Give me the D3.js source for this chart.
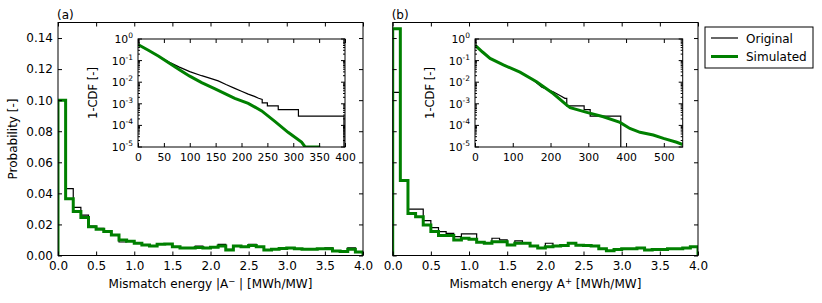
<!DOCTYPE html>
<html>
<head>
<meta charset="utf-8">
<script src="https://cdn.jsdelivr.net/npm/d3@7"></script>
<style>
  body { margin: 0; background: #fff; }
  text { font-family: "DejaVu Sans", sans-serif; fill: #000; }
</style>
</head>
<body>
<svg width="822" height="303"></svg>
<script>
// histogram bins: 0.0 .. 4.0 in steps of 0.1
var binWidth = 0.1;
var leftOrig = [0.100, 0.043, 0.031, 0.026, 0.019, 0.0175, 0.0155, 0.013, 0.0087, 0.0094,
  0.008, 0.0068, 0.0061, 0.0072, 0.0074, 0.0057, 0.0048, 0.0048, 0.0061, 0.0048,
  0.0053, 0.0072, 0.004, 0.0061, 0.0057, 0.0072, 0.0057, 0.0035, 0.004, 0.0045,
  0.0049, 0.0044, 0.004, 0.004, 0.0044, 0.0049, 0.0029, 0.0025, 0.0049, 0.0022];
var leftSim = [0.100, 0.0365, 0.0283, 0.0244, 0.0185, 0.0169, 0.0154, 0.0132, 0.010, 0.0092,
  0.0079, 0.0068, 0.0061, 0.0072, 0.0074, 0.0057, 0.0048, 0.0048, 0.0052, 0.0048,
  0.0053, 0.0061, 0.0035, 0.0061, 0.0057, 0.0064, 0.0057, 0.0035, 0.004, 0.0045,
  0.0049, 0.0044, 0.004, 0.004, 0.0044, 0.0044, 0.0029, 0.0025, 0.004, 0.0022];
var rightOrig = [0.105, 0.0483, 0.0298, 0.0298, 0.0224, 0.018, 0.0154, 0.0143, 0.0121, 0.0139,
  0.0139, 0.0085, 0.0079, 0.0111, 0.010, 0.0068, 0.0094, 0.0079, 0.0061, 0.0048,
  0.0079, 0.0061, 0.0064, 0.0079, 0.0066, 0.0064, 0.0061, 0.0044, 0.0031, 0.0039,
  0.0044, 0.0044, 0.0048, 0.0035, 0.0039, 0.0039, 0.0044, 0.0044, 0.0048, 0.0057];
var rightSim = [0.146, 0.0483, 0.027, 0.025, 0.0197, 0.0154, 0.0128, 0.0128, 0.010, 0.0111,
  0.0105, 0.0085, 0.0079, 0.0089, 0.0089, 0.0068, 0.0079, 0.0079, 0.0061, 0.0048,
  0.0057, 0.0061, 0.0064, 0.0079, 0.0066, 0.0064, 0.0061, 0.0044, 0.0031, 0.0039,
  0.0044, 0.0044, 0.0048, 0.0035, 0.0039, 0.0039, 0.0044, 0.0044, 0.0048, 0.0057];

// inset 1-CDF curves, [energy, 1-CDF]
var leftCdfOrig = [[0, 0.56], [20, 0.3], [40, 0.16], [60, 0.085], [80, 0.05], [100, 0.031], [123, 0.02],
  [140, 0.015], [155, 0.0115], [170, 0.0078], [187, 0.0052], [200, 0.0038], [213, 0.0028], [225, 0.0022],
  [233, 0.0018], [240, 0.0016], [240, 0.0011], [250, 0.0011], [250, 8.1e-4], [271, 8.1e-4],
  [271, 5.4e-4], [310, 5.4e-4], [310, 2.7e-4], [398, 2.7e-4], [398, 1e-6]];
var leftCdfSim = [[0, 0.56], [20, 0.3], [40, 0.16], [60, 0.078], [80, 0.038], [100, 0.019], [123, 0.0095],
  [150, 0.0048], [170, 0.0028], [187, 0.0018], [213, 0.00105], [239, 4.7e-4], [265, 1.5e-4], [290, 4.8e-5],
  [316, 1.7e-5], [323, 1e-5], [352, 1e-5]];
var rightCdfOrig = [[0, 0.52], [40, 0.126], [75, 0.063], [119, 0.029], [150, 0.0145], [177, 0.0058],
  [207, 0.0036], [225, 0.0024], [238, 0.0018], [243, 0.0018], [243, 8.1e-4], [289, 8.1e-4],
  [289, 5.4e-4], [305, 5.4e-4], [305, 2.7e-4], [386, 2.7e-4], [386, 1e-6]];
var rightCdfSim = [[0, 0.52], [20, 0.25], [40, 0.126], [75, 0.063], [119, 0.029], [163, 0.0105], [207, 0.003],
  [243, 8.7e-4], [252, 6.6e-4], [296, 4e-4], [340, 2.5e-4], [384, 1.38e-4], [410, 7.2e-5],
  [437, 4.8e-5], [472, 3.6e-5], [499, 2.5e-5], [534, 1.66e-5], [550, 1.3e-5]];

var probTicks = [0, 0.02, 0.04, 0.06, 0.08, 0.10, 0.12, 0.14];
var energyTicks = [0, 0.5, 1.0, 1.5, 2.0, 2.5, 3.0, 3.5, 4.0];
var leftInsetTicks = [0, 50, 100, 150, 200, 250, 300, 350, 400];
var rightInsetTicks = [0, 100, 200, 300, 400, 500];
var decades = [-5, -4, -3, -2, -1, 0];

var green = "#008000";
var fs = 12;
var svg = d3.select("svg");

var plotTop = 22.5, plotBottom = 255.5;
var panels = [
  { x0: 58, x1: 363, orig: leftOrig, sim: leftSim, tag: "(a)", labels: true, sup: "\u2212", bars: true,
    ix0: 138, ix1: 345, imax: 400, iticks: leftInsetTicks, cOrig: leftCdfOrig, cSim: leftCdfSim },
  { x0: 392.7, x1: 698, orig: rightOrig, sim: rightSim, tag: "(b)", labels: false, sup: "+", bars: false,
    ix0: 475, ix1: 682.7, imax: 550, iticks: rightInsetTicks, cOrig: rightCdfOrig, cSim: rightCdfSim }
];

function histPath(vals, x, y) {
  var pts = [[0, 0]];
  vals.forEach(function(v, i) {
    pts.push([i * binWidth, v]);
    pts.push([(i + 1) * binWidth, v]);
  });
  pts.push([vals.length * binWidth, 0]);
  return d3.line().x(function(d) { return x(d[0]); }).y(function(d) { return y(d[1]); })(pts);
}

function clean(g) {
  g.select(".domain").remove();
  g.selectAll(".tick line").attr("stroke", "#000");
  g.selectAll("text").attr("fill", "#000");
}

panels.forEach(function(p, k) {
  var x = d3.scaleLinear().domain([0, 4]).range([p.x0, p.x1]);
  var y = d3.scaleLinear().domain([0, 0.15]).range([plotBottom, plotTop]);
  var g = svg.append("g");

  g.append("clipPath").attr("id", "clip" + k).append("rect")
    .attr("x", p.x0).attr("y", plotTop).attr("width", p.x1 - p.x0).attr("height", plotBottom - plotTop);

  var lines = g.append("g").attr("clip-path", "url(#clip" + k + ")");
  lines.append("path").attr("d", histPath(p.orig, x, y))
    .attr("fill", "none").attr("stroke", "#000").attr("stroke-width", 1.2);
  lines.append("path").attr("d", histPath(p.sim, x, y))
    .attr("fill", "none").attr("stroke", green).attr("stroke-width", 3);

  g.append("g").attr("transform", "translate(0," + plotBottom + ")")
    .call(d3.axisBottom(x).tickValues(energyTicks).tickSize(-4).tickPadding(6).tickFormat(d3.format(".1f")))
    .attr("font-size", fs).attr("font-family", "DejaVu Sans").call(clean);
  g.append("g").attr("transform", "translate(0," + plotTop + ")")
    .call(d3.axisTop(x).tickValues(energyTicks).tickSize(-4).tickFormat("")).call(clean);
  g.append("g").attr("transform", "translate(" + p.x0 + ",0)")
    .call(d3.axisLeft(y).tickValues(probTicks).tickSize(-4).tickPadding(5)
      .tickFormat(p.labels ? d3.format(".2f") : ""))
    .attr("font-size", fs).attr("font-family", "DejaVu Sans").call(clean);
  g.append("g").attr("transform", "translate(" + p.x1 + ",0)")
    .call(d3.axisRight(y).tickValues(probTicks).tickSize(-4).tickFormat("")).call(clean);

  g.append("rect").attr("x", p.x0).attr("y", plotTop).attr("width", p.x1 - p.x0).attr("height", plotBottom - plotTop)
    .attr("fill", "none").attr("stroke", "#000").attr("stroke-width", 1);

  g.append("text").attr("x", p.x0 - 1).attr("y", 19).attr("font-size", fs).text(p.tag);

  var xl = g.append("text").attr("x", (p.x0 + p.x1) / 2).attr("y", 288)
    .attr("text-anchor", "middle").attr("font-size", fs);
  xl.append("tspan").text(p.bars ? "Mismatch energy |A" : "Mismatch energy A");
  xl.append("tspan").attr("dy", -4.5).attr("font-size", 8.5).text(p.sup);
  xl.append("tspan").attr("dy", 4.5).text(p.bars ? " | [MWh/MW]" : "  [MWh/MW]");

  if (p.labels) {
    g.append("text").attr("transform", "translate(17," + ((plotTop + plotBottom) / 2) + ") rotate(-90)")
      .attr("text-anchor", "middle").attr("font-size", fs).text("Probability [-]");
  }

  // inset
  var it = 39, ib = 147;
  var ix = d3.scaleLinear().domain([0, p.imax]).range([p.ix0, p.ix1]);
  var iy = d3.scaleLog().domain([1e-5, 1]).range([ib, it]);
  var ig = svg.append("g");
  ig.append("rect").attr("x", p.ix0).attr("y", it).attr("width", p.ix1 - p.ix0).attr("height", ib - it)
    .attr("fill", "#fff");
  ig.append("clipPath").attr("id", "iclip" + k).append("rect")
    .attr("x", p.ix0).attr("y", it).attr("width", p.ix1 - p.ix0).attr("height", ib - it);
  var cl = ig.append("g").attr("clip-path", "url(#iclip" + k + ")");
  var line = d3.line().x(function(d) { return ix(d[0]); }).y(function(d) { return iy(d[1]); });
  cl.append("path").attr("d", line(p.cOrig)).attr("fill", "none").attr("stroke", "#000").attr("stroke-width", 1.2);
  cl.append("path").attr("d", line(p.cSim)).attr("fill", "none").attr("stroke", green).attr("stroke-width", 3);

  ig.append("g").attr("transform", "translate(0," + ib + ")")
    .call(d3.axisBottom(ix).tickValues(p.iticks).tickSize(-4).tickPadding(6).tickFormat(d3.format("d")))
    .attr("font-size", 10.8).attr("font-family", "DejaVu Sans").call(clean);
  ig.append("g").attr("transform", "translate(0," + it + ")")
    .call(d3.axisTop(ix).tickValues(p.iticks).tickSize(-4).tickFormat("")).call(clean);

  var major = decades.map(function(e) { return Math.pow(10, e); });
  var minor = [];
  decades.slice(0, -1).forEach(function(e) {
    for (var m = 2; m < 10; m++) minor.push(m * Math.pow(10, e));
  });
  [[p.ix0, 1], [p.ix1, -1]].forEach(function(s) {
    ig.selectAll(null).data(major).enter().append("line")
      .attr("x1", s[0]).attr("x2", s[0] + 4 * s[1])
      .attr("y1", function(d) { return iy(d); }).attr("y2", function(d) { return iy(d); })
      .attr("stroke", "#000");
    ig.selectAll(null).data(minor).enter().append("line")
      .attr("x1", s[0]).attr("x2", s[0] + 2 * s[1])
      .attr("y1", function(d) { return iy(d); }).attr("y2", function(d) { return iy(d); })
      .attr("stroke", "#000");
  });

  decades.forEach(function(e) {
    var t = ig.append("text").attr("x", p.ix0 - 5).attr("y", iy(Math.pow(10, e)) + 4)
      .attr("text-anchor", "end").attr("font-size", 10.8);
    t.append("tspan").text("10");
    t.append("tspan").attr("dy", -5).attr("font-size", 7.5).text(e === 0 ? "0" : "-" + (-e));
  });

  ig.append("text").attr("transform", "translate(" + (p.ix0 - 41) + "," + ((it + ib) / 2) + ") rotate(-90)")
    .attr("text-anchor", "middle").attr("font-size", 11.5).text("1-CDF [-]");

  ig.append("rect").attr("x", p.ix0).attr("y", it).attr("width", p.ix1 - p.ix0).attr("height", ib - it)
    .attr("fill", "none").attr("stroke", "#000").attr("stroke-width", 1);
});

// legend
var leg = svg.append("g");
leg.append("rect").attr("x", 705).attr("y", 27).attr("width", 108).attr("height", 41)
  .attr("fill", "#fff").attr("stroke", "#000");
var entries = [{ name: "Original", color: "#000", w: 1.2 }, { name: "Simulated", color: green, w: 3 }];
entries.forEach(function(e, i) {
  var yy = 38 + i * 18.5;
  leg.append("line").attr("x1", 711).attr("x2", 738).attr("y1", yy).attr("y2", yy)
    .attr("stroke", e.color).attr("stroke-width", e.w);
  leg.append("text").attr("x", 746).attr("y", yy + 4.5).attr("font-size", fs).text(e.name);
});
</script>
</body>
</html>
